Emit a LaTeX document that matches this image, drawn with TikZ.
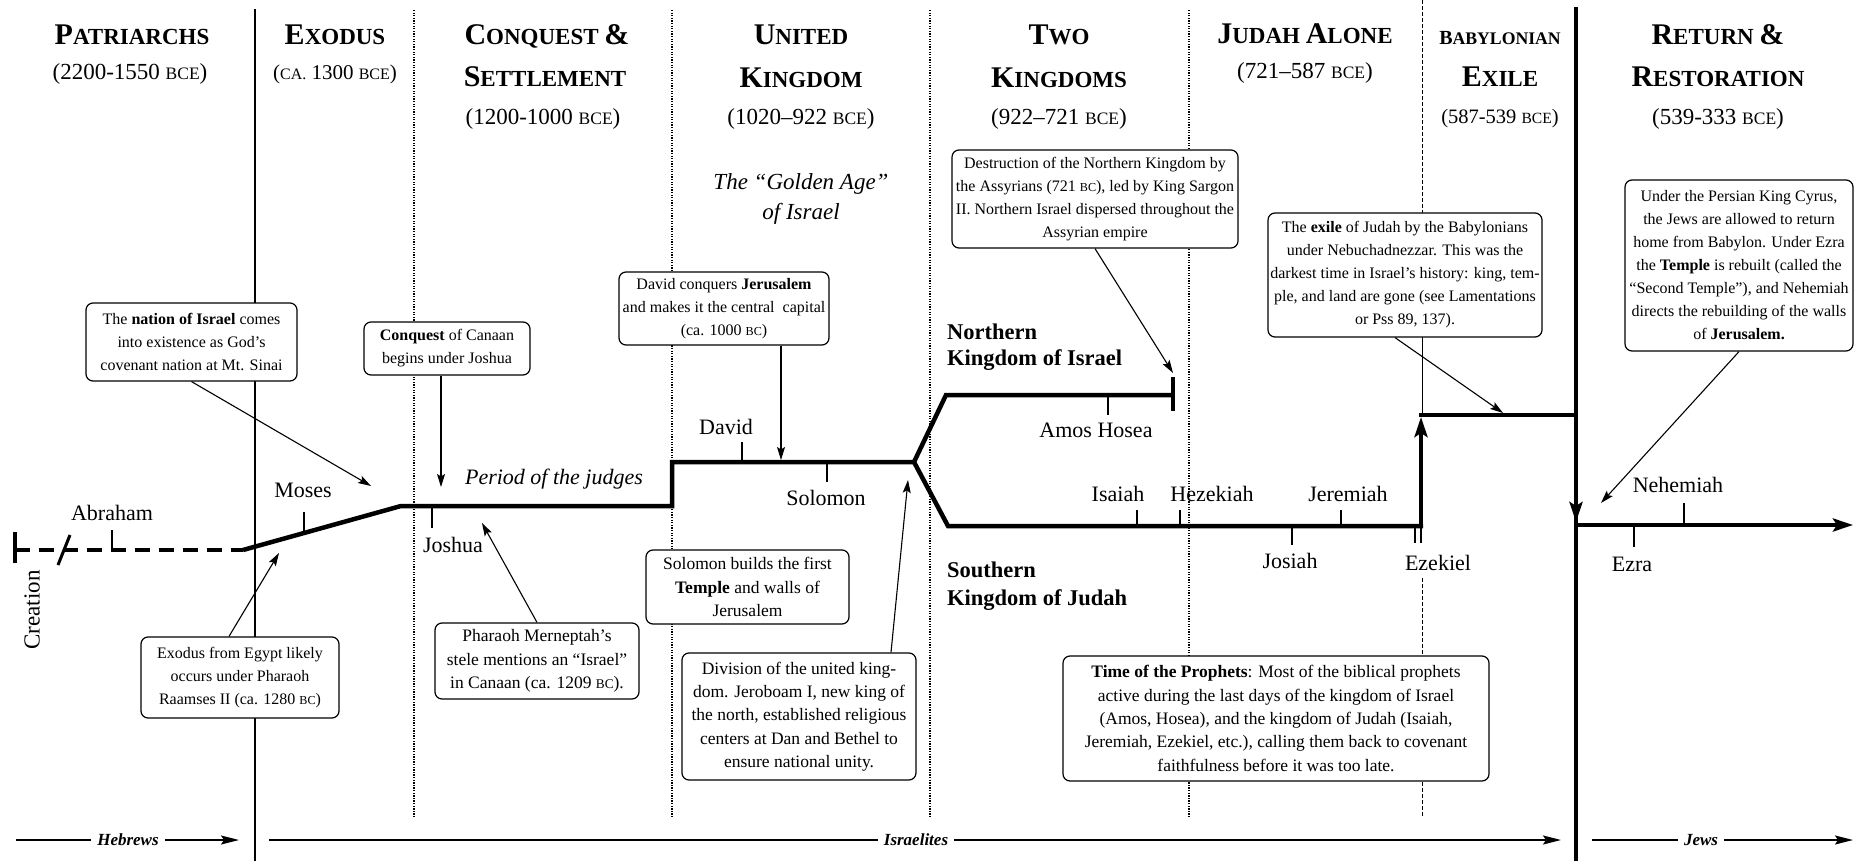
\documentclass[tikz,border=0pt]{standalone}
\usepackage{fontspec}
\setmainfont{Liberation Serif}
\usepackage{graphicx}
\usetikzlibrary{arrows.meta,calc}
\newcommand{\sck}[1]{\scalebox{0.76}{#1}}
\newcommand{\hdA}[2]{{\fontsize{30}{34}\selectfont #1}{\fontsize{23}{34}\selectfont #2}}
\newcommand{\hamp}{{\fontsize{30}{34}\selectfont\&}}
\tikzset{
  box/.style={draw, line width=1.2pt, rounded corners=7pt, fill=white, align=center, inner sep=2pt, font=\fontsize{16}{23}\selectfont},
  boxL/.style={box, font=\fontsize{17.5}{23.3}\selectfont},
  hd/.style={font=\bfseries, anchor=base, inner sep=0pt},
  dt/.style={font=\fontsize{23}{26}\selectfont, anchor=base, inner sep=0pt},
  lbl/.style={font=\fontsize{22}{26}\selectfont, anchor=base, inner sep=0pt},
  blbl/.style={font=\fontsize{22.5}{26}\selectfont\bfseries, anchor=base west, inner sep=0pt},
  divsolid/.style={line width=2pt},
  divdot/.style={line width=1.5pt, dash pattern=on 1.3pt off 1.3pt},
  thindash/.style={line width=1pt, dash pattern=on 4pt off 2pt},
  tl/.style={line width=4.5pt, line join=miter},
  tick/.style={line width=2pt},
  arr/.style={line width=1.1pt, -{Stealth[length=13pt,width=8pt,inset=2.5pt]}},
  tarr/.style={-{Stealth[length=20pt,width=13pt,inset=4pt]}},
  people/.style={font=\fontsize{17}{20}\selectfont\bfseries\itshape, fill=white, inner xsep=6pt, inner ysep=2pt},
  parr/.style={line width=1.8pt, -{Stealth[length=18pt,width=9pt,inset=3pt]}},
}
\begin{document}
\begin{tikzpicture}[x=1pt,y=-1pt]
\useasboundingbox (0,0) rectangle (1858,861);
\fill[white] (0,0) rectangle (1858,861);

% section dividers
\draw[divsolid] (255,9) -- (255,861);
\draw[divdot] (414,10) -- (414,817);
\draw[divdot] (672,10) -- (672,817);
\draw[divdot] (930,10) -- (930,817);
\draw[divdot] (1189,10) -- (1189,817);
\draw[thindash] (1422,0) -- (1422,213);
\draw[line width=1pt] (1422,337) -- (1422,415);
\draw[thindash] (1422,578) -- (1422,817);
\draw[line width=3.2pt] (1576,7) -- (1576,861);

% headers
\node[hd] (h1) at (132,45) {\hdA{P}{ATRIARCHS}};
\node[dt] (d1) at (130,80) {(2200-1550 \sck{BCE})};
\node[hd] (h2) at (335,45) {\hdA{E}{XODUS}};
\node[dt,font=\fontsize{21}{24}\selectfont] (d2) at (335,80) {(\sck{CA.} 1300 \sck{BCE})};
\node[hd] (h3a) at (547,45) {\hdA{C}{ONQUEST }\hamp};
\node[hd] (h3b) at (545,87) {\hdA{S}{ETTLEMENT}};
\node[dt] (d3) at (543,125) {(1200-1000 \sck{BCE})};
\node[hd] (h4a) at (801,45) {\hdA{U}{NITED}};
\node[hd] (h4b) at (801,88) {\hdA{K}{INGDOM}};
\node[dt] (d4) at (801,125) {(1020–922 \sck{BCE})};
\node[hd] (h5a) at (1059,45) {\hdA{T}{WO}};
\node[hd] (h5b) at (1059,88) {\hdA{K}{INGDOMS}};
\node[dt] (d5) at (1059,125) {(922–721 \sck{BCE})};
\node[hd] (h6) at (1305,44) {\hdA{J}{UDAH }\hdA{A}{LONE}};
\node[dt] (d6) at (1305,79) {(721–587 \sck{BCE})};
\node[hd] (h7a) at (1500,45) {{\fontsize{20}{24}\selectfont B}{\fontsize{17.7}{24}\selectfont ABYLONIAN}};
\node[hd] (h7b) at (1500,87) {\hdA{E}{XILE}};
\node[dt,font=\fontsize{20.5}{24}\selectfont] (d7) at (1500,124) {(587-539 \sck{BCE})};
\node[hd] (h8a) at (1718,45) {\hdA{R}{ETURN }\hamp};
\node[hd] (h8b) at (1718,87) {\hdA{R}{ESTORATION}};
\node[dt] (d8) at (1718,125) {(539-333 \sck{BCE})};

\node[font=\fontsize{23}{30}\selectfont\itshape, anchor=base, inner sep=0pt] (gold1) at (801,190) {The “Golden Age”};
\node[font=\fontsize{23}{30}\selectfont\itshape, anchor=base, inner sep=0pt] (gold2) at (801,220) {of Israel};

% timeline
\draw[tl] (15,532) -- (15,563);
\draw[tl, dash pattern=on 15pt off 9pt] (15,550) -- (243,550);
\draw[line width=3pt] (58,565) -- (70,535);
\draw[tl] (243,550) -- (401,506) -- (672,506) -- (672,462) -- (914,462) -- (946,395) -- (1173,395);
\draw[tl] (1173,377) -- (1173,411);
\draw[tl] (914,462) -- (948,526) -- (1423,526);
\draw[tl, tarr] (1421,528) -- (1421,417);
\draw[tl] (1419,415) -- (1578,415);
\draw[tl, tarr] (1576,413) -- (1576,522);
\draw[tl, tarr] (1574,525) -- (1853,525);

% ticks
\draw[tick] (112,530) -- (112,550);
\draw[tick] (304,512) -- (304,533);
\draw[tick] (432,506) -- (432,528);
\draw[tick] (742,442) -- (742,462);
\draw[tick] (827,462) -- (827,482);
\draw[tick] (1108,395) -- (1108,415);
\draw[tick] (1137,510) -- (1137,526);
\draw[tick] (1180,510) -- (1180,526);
\draw[tick] (1341,510) -- (1341,526);
\draw[tick] (1292,526) -- (1292,545);
\draw[tick] (1415,526) -- (1415,543);
\draw[tick] (1421,526) -- (1421,543);
\draw[tick] (1634,525) -- (1634,547);
\draw[tick] (1684,503) -- (1684,525);

% labels
\node[lbl] (abraham) at (112,520) {Abraham};
\node[lbl] (moses) at (303,497) {Moses};
\node[lbl] (joshua) at (453,552) {Joshua};
\node[lbl, font=\fontsize{22}{26}\selectfont\itshape] (judges) at (554,484) {Period of the judges};
\node[lbl] (david) at (726,434) {David};
\node[lbl] (solomon) at (826,505) {Solomon};
\node[blbl] (north1) at (947,339) {Northern};
\node[blbl] (north2) at (947,365) {Kingdom of Israel};
\node[lbl] (amos) at (1096,437) {Amos Hosea};
\node[lbl] (isaiah) at (1118,501) {Isaiah};
\node[lbl] (hezekiah) at (1212,501) {Hezekiah};
\node[lbl] (jeremiah) at (1348,501) {Jeremiah};
\node[lbl] (josiah) at (1290,568) {Josiah};
\node[lbl] (ezekiel) at (1438,570) {Ezekiel};
\node[lbl] (ezra) at (1632,571) {Ezra};
\node[lbl] (nehemiah) at (1678,492) {Nehemiah};
\node[blbl] (south1) at (947,577) {Southern};
\node[blbl] (south2) at (947,605) {Kingdom of Judah};
\node[rotate=90, font=\fontsize{23}{26}\selectfont, inner sep=0pt] (creation) at (32,610) {Creation};

% boxes
\node[box, minimum width=211pt, minimum height=78pt] (nation) at (191.5,342)
  {The \textbf{nation of Israel} comes\\into existence as God’s\\covenant nation at Mt. Sinai};
\node[box, minimum width=166pt, minimum height=53pt] (conquest) at (447,348.5)
  {\textbf{Conquest} of Canaan\\begins under Joshua};
\node[box, minimum width=210pt, minimum height=73pt] (davidbox) at (724,308.5)
  {David conquers \textbf{Jerusalem}\\and makes it the central\ \ capital\\(ca. 1000 \sck{BC})};
\node[box, minimum width=286pt, minimum height=98pt] (destr) at (1095,199)
  {Destruction of the Northern Kingdom by\\the Assyrians (721 \sck{BC}), led by King Sargon\\II. Northern Israel dispersed throughout the\\Assyrian empire};
\node[box, minimum width=274pt, minimum height=124pt] (exile) at (1405,275)
  {The \textbf{exile} of Judah by the Babylonians\\under Nebuchadnezzar. This was the\\darkest time in Israel’s history: king, tem-\\ple, and land are gone (see Lamentations\\or Pss 89, 137).};
\node[box, minimum width=228pt, minimum height=171pt] (ret) at (1739,265.5)
  {Under the Persian King Cyrus,\\the Jews are allowed to return\\home from Babylon. Under Ezra\\the \textbf{Temple} is rebuilt (called the\\“Second Temple”), and Nehemiah\\directs the rebuilding of the walls\\of \textbf{Jerusalem.}};
\node[box, minimum width=198pt, minimum height=81pt] (exodus) at (240,677.5)
  {Exodus from Egypt likely\\occurs under Pharaoh\\Raamses II (ca. 1280 \sck{BC})};
\node[boxL, minimum width=204pt, minimum height=76pt] (pharaoh) at (537,661)
  {Pharaoh Merneptah’s\\stele mentions an “Israel”\\in Canaan (ca. 1209 \sck{BC}).};
\node[boxL, minimum width=203pt, minimum height=74pt] (solbox) at (747.5,587)
  {Solomon builds the first\\\textbf{Temple} and walls of\\Jerusalem};
\node[boxL, minimum width=234pt, minimum height=127pt] (division) at (799,716.5)
  {Division of the united king-\\dom. Jeroboam I, new king of\\the north, established religious\\centers at Dan and Bethel to\\ensure national unity.};
\node[boxL, minimum width=426pt, minimum height=125pt] (prophets) at (1276,718.5)
  {\textbf{Time of the Prophets}: Most of the biblical prophets\\active during the last days of the kingdom of Israel\\(Amos, Hosea), and the kingdom of Judah (Isaiah,\\Jeremiah, Ezekiel, etc.), calling them back to covenant\\faithfulness before it was too late.};

% arrow tips
\coordinate (tNation) at (371,486);
\coordinate (tConq) at (441,487);
\coordinate (tExodus) at (279,553);
\coordinate (tPharaoh) at (482,523);
\coordinate (tDavid) at (781,460);
\coordinate (tDivision) at (908,480);
\coordinate (tDestr) at (1173,373);
\coordinate (tExile) at (1503,413);
\coordinate (tReturn) at (1601,503);

\draw[arr] (nation.south) -- (tNation);
\draw[arr] (conquest.south -| tConq) -- (tConq);
\draw[arr] ($(exodus.north)+(-11,0)$) -- (tExodus);
\draw[arr] (pharaoh.north) -- (tPharaoh);
\draw[arr] (davidbox.south -| tDavid) -- (tDavid);
\draw[arr] ($(division.north)+(92,0)$) -- (tDivision);
\draw[arr] (destr.south) -- (tDestr);
\draw[arr] ($(exile.south)+(-10,0)$) -- (tExile);
\draw[arr] (ret.south) -- (tReturn);

% peoples
\coordinate (hebS) at (16,840);  \coordinate (hebE) at (239,840);
\coordinate (isrS) at (269,840); \coordinate (isrE) at (1561,840);
\coordinate (jewS) at (1592,840); \coordinate (jewE) at (1853,840);
\draw[parr] (hebS) -- (hebE);
\draw[parr] (isrS) -- (isrE);
\draw[parr] (jewS) -- (jewE);
\node[people] (hebrews) at (128,840) {Hebrews};
\node[people] (israelites) at (916,840) {Israelites};
\node[people] (jews) at (1701,840) {Jews};
\end{tikzpicture}
\end{document}
